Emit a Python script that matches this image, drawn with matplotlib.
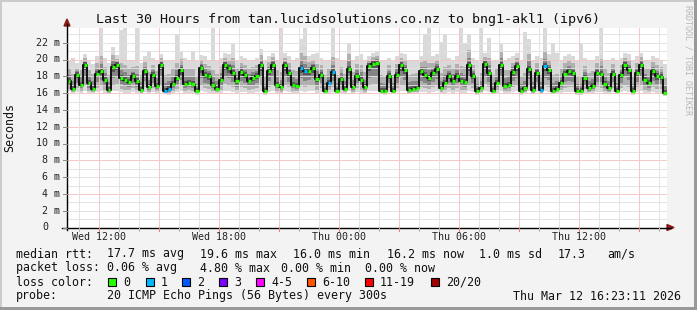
import numpy as np
import matplotlib
matplotlib.use("Agg")
import matplotlib.pyplot as plt
from matplotlib.patches import Rectangle, Polygon
from matplotlib.lines import Line2D

# ---- data (one sample per 12 min, start Wed 10:23:11, 30 hours) ----
start_hour = 10 + 23 / 60 + 11 / 3600
step_hours = 0.2

median_ms = [
    17.4, 16.5, 18.2, 17.0, 19.4, 17.2, 16.5, 18.3, 18.6, 17.6, 16.4, 19.1, 19.4, 17.8, 17.6, 17.3, 18.0, 17.4, 16.4, 18.6, 16.7, 18.2, 16.9, 19.4, 16.3,
    16.5, 17.1, 17.8, 18.7, 17.1, 17.25, 17.1, 16.2, 19.0, 18.2, 18.0, 17.0, 16.5, 17.6, 19.3, 19.0, 18.4, 17.4, 18.5, 18.2, 17.45, 17.8, 18.0, 19.3, 16.2,
    18.6, 19.4, 17.0, 16.7, 19.3, 18.4, 17.0, 16.8, 19.0, 18.6, 18.6, 19.0, 17.7, 18.2, 16.3, 17.25, 18.5, 16.3, 17.7, 16.5, 18.9, 16.7, 18.0, 17.6, 16.7,
    19.2, 19.5, 19.6, 16.3, 16.2, 18.0, 16.3, 18.2, 19.3, 18.75, 16.4, 16.5, 16.6, 18.6, 18.2, 17.8, 18.4, 18.9, 16.6, 17.25, 18.0, 17.45, 18.0, 17.45, 17.3,
    19.3, 18.0, 16.2, 16.6, 19.5, 18.4, 16.3, 17.25, 19.4, 16.9, 17.0, 18.5, 19.2, 16.2, 16.55, 18.9, 16.4, 18.4, 16.4, 19.2, 18.8, 16.3, 16.5, 17.25, 18.3,
    18.6, 18.4, 16.2, 16.2, 17.8, 16.55, 16.8, 18.4, 18.3, 17.1, 16.6, 18.3, 16.3, 18.2, 19.35, 18.8, 16.2, 18.4, 19.4, 17.6, 17.2, 18.6, 18.0, 17.9, 16.0,
]

smoke_hi_ms = [
    19.8, 20.2, 19.6, 20.0, 20.6, 19.8, 19.5, 20.4, 24.0, 20.2, 19.6, 21.5, 20.5, 23.5, 24.0, 20.0, 19.8, 24.0, 19.6, 20.4, 21.0, 20.2, 19.8, 20.6, 20.0,
    19.8, 20.0, 23.0, 21.0, 20.2, 20.0, 21.0, 19.8, 20.5, 20.4, 20.0, 24.0, 19.8, 20.2, 20.8, 20.6, 21.8, 20.0, 20.4, 20.2, 20.0, 20.0, 20.2, 21.3, 19.8,
    20.4, 20.8, 20.0, 24.0, 20.8, 20.4, 20.0, 20.2, 22.5, 24.0, 20.4, 20.6, 20.8, 20.2, 19.8, 20.0, 24.0, 20.2, 20.0, 19.8, 21.9, 20.0, 20.4, 20.7, 19.9,
    20.4, 20.8, 21.0, 20.0, 19.8, 20.2, 19.8, 20.4, 20.8, 20.6, 20.0, 19.8, 20.0, 20.4, 23.0, 24.0, 20.4, 20.6, 22.1, 23.0, 20.2, 20.0, 20.4, 24.0, 22.0,
    23.0, 20.2, 19.8, 24.0, 20.8, 22.6, 19.8, 20.0, 21.8, 20.0, 20.2, 20.4, 20.8, 19.8, 23.3, 22.5, 20.0, 20.4, 20.2, 24.0, 20.6, 22.0, 20.8, 20.0, 20.4,
    20.6, 20.4, 19.8, 22.0, 20.2, 19.8, 20.0, 20.4, 24.0, 20.0, 19.8, 20.2, 19.8, 20.2, 20.8, 20.6, 20.0, 20.4, 20.8, 20.0, 20.0, 20.4, 20.2, 20.0, 19.5,
]

smoke_lo_ms = [
    16.2, 16.0, 16.1, 16.0, 16.2, 16.0, 16.0, 16.1, 16.2, 16.0, 15.9, 16.2, 16.3, 16.1, 16.0, 16.0, 16.1, 16.0, 15.9, 16.1, 16.0, 16.1, 16.0, 16.2, 15.9,
    15.8, 16.0, 16.1, 16.2, 16.0, 16.0, 16.0, 15.8, 16.2, 16.1, 16.0, 16.0, 16.0, 16.0, 16.3, 16.2, 16.1, 16.0, 16.1, 16.1, 16.0, 16.0, 16.1, 16.2, 15.8,
    16.1, 16.2, 16.0, 15.9, 16.2, 16.1, 16.0, 16.0, 16.2, 16.1, 16.2, 16.2, 16.0, 16.1, 15.9, 16.0, 16.1, 15.9, 16.0, 16.0, 16.2, 16.0, 16.1, 16.0, 15.9,
    16.2, 16.3, 16.2, 15.9, 15.8, 16.1, 15.9, 16.1, 16.2, 16.2, 15.9, 16.0, 16.0, 16.1, 16.1, 16.0, 16.1, 16.2, 16.0, 16.0, 16.1, 16.0, 16.1, 16.0, 16.0,
    16.2, 16.1, 15.8, 16.0, 16.2, 16.1, 15.9, 16.0, 16.2, 16.0, 16.0, 16.1, 16.2, 15.8, 16.0, 16.2, 15.9, 16.1, 15.9, 16.2, 16.1, 15.9, 16.0, 16.0, 16.1,
    16.1, 16.1, 15.8, 15.8, 16.0, 16.0, 16.0, 16.1, 16.1, 16.0, 15.9, 16.1, 15.9, 16.1, 16.2, 16.1, 15.8, 16.1, 16.2, 16.0, 16.0, 16.1, 16.0, 16.0, 15.7,
]

# samples where 1 of 20 pings was lost
loss_one_samples = [24, 25, 58, 59, 65, 66, 118, 119]

x_labels = ["Wed 12:00", "Wed 18:00", "Thu 00:00", "Thu 06:00", "Thu 12:00"]
x_label_hours = [12, 18, 24, 30, 36]

loss_names = ["0", "1", "2", "3", "4-5", "6-10", "11-19", "20/20"]
loss_colors = ["#26ff00", "#00b8ff", "#0059ff", "#7e00ff", "#ff00ff", "#ff5500", "#ff0000", "#a10000"]

# ---- figure ----
W, H = 697, 310
BG = "#f3f3f3"
MONO = "DejaVu Sans Mono"


def fx(x):
    return x / W


def fy(y):
    return 1 - y / H


fig = plt.figure(figsize=(W / 100, H / 100), dpi=100, facecolor=BG)

x0, x1, y0, y1 = 67, 667, 227.5, 28
ax = fig.add_axes([fx(x0), fy(y0), (x1 - x0) / W, (y0 - y1) / H])
ax.set_facecolor("white")
t_end = start_hour + 30
ymax = (y0 - y1) / 8.4
ax.set_xlim(start_hour, t_end)
ax.set_ylim(0, ymax)
for s in ax.spines.values():
    s.set_visible(False)
ax.set_xticks([])
ax.set_yticks([])

med = np.array(median_ms)
hi = np.array(smoke_hi_ms)
lo = np.array(smoke_lo_ms)
n = len(med)
edges = start_hour + step_hours * np.arange(n + 1)


# smoke layers
def stepfill(a, b, color):
    ax.fill_between(edges, np.append(a, a[-1]), np.append(b, b[-1]),
                    step="post", color=color, lw=0, zorder=1)


stepfill(lo, hi, "#d9d9d9")
cap = np.minimum(hi, med + 3)
stepfill(med - 0.75 * (med - lo), np.minimum(hi, med + 0.6 * (cap - med)), "#b0b0b0")
stepfill(med - 0.45 * (med - lo), np.minimum(hi, med + 0.3 * (cap - med)), "#858585")
stepfill(med - 0.2 * (med - lo), np.minimum(hi, med + 0.35), "#555555")

# grid (drawn above the smoke, like rrdtool); dotted 1px lines read as light
MINOR, MAJOR = "#e0e0e0", "#f7c2c2"
for v in range(1, int(ymax) + 1):
    ax.axhline(v, color=MAJOR if v % 4 == 0 else MINOR, lw=0.72,
               zorder=3, antialiased=False, alpha=0.9)
for h in range(11, 41):
    ax.axvline(h, color=MAJOR if h % 3 == 0 else MINOR, lw=0.72,
               zorder=3, antialiased=False, alpha=0.9)

# median line
ax.step(edges, np.append(med, med[-1]), where="post", color="#101010",
        lw=1.4, zorder=4)
pad = step_hours / 8
for i in range(n):
    c = loss_colors[1] if i in loss_one_samples else loss_colors[0]
    ax.hlines(med[i], edges[i] + pad, edges[i + 1] - pad, colors=c,
              lw=2.3, zorder=5)

# axes lines with arrows
fig.add_artist(Line2D([fx(x0), fx(x0)], [fy(y0 + 2), fy(24)], color="black",
                      lw=1.0, transform=fig.transFigure))
fig.add_artist(Line2D([fx(62), fx(671)], [fy(y0), fy(y0)], color="black",
                      lw=1.0, transform=fig.transFigure))
arrow = "#8b1a1a"
fig.add_artist(Polygon([[fx(x0 - 3), fy(26)], [fx(x0 + 3), fy(26)], [fx(x0), fy(19)]],
                       closed=True, color=arrow, transform=fig.transFigure))
fig.add_artist(Polygon([[fx(667), fy(y0 - 3)], [fx(667), fy(y0 + 3)], [fx(674), fy(y0)]],
                       closed=True, color=arrow, transform=fig.transFigure))

# y tick labels and ticks
for v in range(0, 23, 2):
    yp = y0 - v * 8.4
    if v == 0:
        fig.text(fx(48), fy(yp), "0", ha="right", va="center", fontsize=7.2,
                 family=MONO, color="#222")
    else:
        fig.text(fx(60), fy(yp), f"{v:d} m", ha="right", va="center",
                 fontsize=7.2, family=MONO, color="#222")
    fig.add_artist(Line2D([fx(63), fx(x0)], [fy(yp), fy(yp)], color="#888",
                          lw=0.7, transform=fig.transFigure))

# x tick labels and ticks
for lab, h in zip(x_labels, x_label_hours):
    xp = x0 + (h - start_hour) * 20
    fig.text(fx(xp), fy(237.5), lab, ha="center", va="center", fontsize=7.2,
             family=MONO, color="#222")
for h in range(11, 41):
    xp = x0 + (h - start_hour) * 20
    c = "#f08080" if h % 3 == 0 else "#bbbbbb"
    fig.add_artist(Line2D([fx(xp), fx(xp)], [fy(y0), fy(y0 + 3)], color=c,
                          lw=0.8, transform=fig.transFigure))

# title, axis label, watermark
fig.text(fx(347.5), fy(19), "Last 30 Hours from tan.lucidsolutions.co.nz to bng1-akl1 (ipv6)",
         ha="center", va="center", fontsize=9.6, family=MONO, color="#111")
fig.text(fx(10), fy(127), "Seconds", rotation=90, ha="center", va="center",
         fontsize=8.4, family=MONO, color="#111")
fig.text(fx(688), fy(60), "RRDTOOL / TOBI OETIKER", rotation=270, ha="center",
         va="center", fontsize=6.0, family=MONO, color="#b8b8b8")

# legend rows
LF = 8.4
rows = [
    (254, [(16, "median rtt:"), (107, "17.7 ms avg"), (200, "19.6 ms max"),
           (293, "16.0 ms min"), (387, "16.2 ms now"), (479, "1.0 ms sd"),
           (558, "17.3"), (607, "am/s")]),
    (268, [(16, "packet loss:"), (107, "0.06 % avg"), (200, "4.80 % max"),
           (281, "0.00 % min"), (365, "0.00 % now")]),
    (282, [(16, "loss color:")]),
    (296, [(16, "probe:"), (107, "20 ICMP Echo Pings (56 Bytes) every 300s")]),
]
for yp, items in rows:
    for xp, txt in items:
        fig.text(fx(xp), fy(yp), txt, ha="left", va="center", fontsize=LF,
                 family=MONO, color="#111")
fig.text(fx(681), fy(296), "Thu Mar 12 16:23:11 2026", ha="right", va="center",
         fontsize=LF, family=MONO, color="#111")

box_x = [108, 146, 182, 219, 256, 307, 365, 431]
for bx, name, col in zip(box_x, loss_names, loss_colors):
    fig.add_artist(Rectangle((fx(bx), fy(286)), 8 / W, 8 / H, facecolor=col,
                             edgecolor="black", lw=0.8, transform=fig.transFigure))
    fig.text(fx(bx + 15), fy(282), name, ha="left", va="center", fontsize=LF,
             family=MONO, color="#111")

# frame
shade_a, shade_b = "#cbcbcb", "#999999"
fig.add_artist(Rectangle((0, fy(2)), 1, 2 / H, color=shade_a, lw=0, transform=fig.transFigure))
fig.add_artist(Rectangle((0, 0), 2 / W, 1, color=shade_a, lw=0, transform=fig.transFigure))
fig.add_artist(Rectangle((0, 0), 1, 3 / H, color=shade_b, lw=0, transform=fig.transFigure))
fig.add_artist(Rectangle((fx(W - 3), 0), 3 / W, 1, color=shade_b, lw=0, transform=fig.transFigure))

fig.savefig("out.png", dpi=100, facecolor=BG)
